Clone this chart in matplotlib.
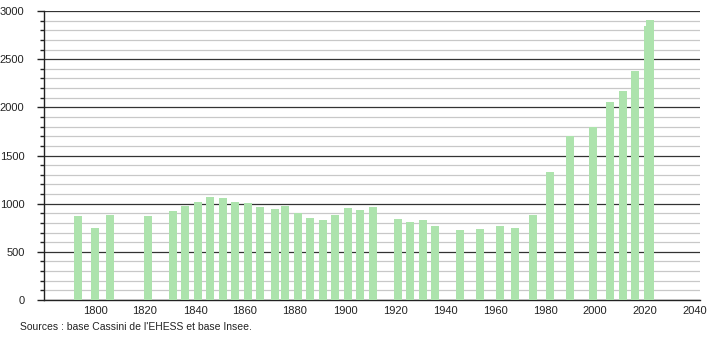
import matplotlib
matplotlib.use("Agg")
import matplotlib.pyplot as plt
from matplotlib.ticker import MultipleLocator

years = [1793, 1800, 1806, 1821, 1831, 1836, 1841, 1846, 1851, 1856, 1861, 1866,
         1872, 1876, 1881, 1886, 1891, 1896, 1901, 1906, 1911, 1921, 1926, 1931,
         1936, 1946, 1954, 1962, 1968, 1975, 1982, 1990, 1999, 2006, 2011, 2016,
         2021, 2022]
population = [872, 748, 883, 872, 924, 976, 1017, 1069, 1059, 1017, 1007, 966,
              945, 976, 900, 852, 831, 883, 955, 934, 966, 841, 810, 831,
              769, 728, 738, 769, 748, 883, 1328, 1700, 1793, 2052, 2166, 2373,
              2845, 2905]
x_ticks = [1800, 1820, 1840, 1860, 1880, 1900, 1920, 1940, 1960, 1980, 2000, 2020, 2040]
y_ticks = [0, 500, 1000, 1500, 2000, 2500, 3000]
source = "Sources : base Cassini de l'EHESS et base Insee."

plt.rcParams['font.family'] = ['Liberation Sans', 'DejaVu Sans']

fig = plt.figure(figsize=(7.1, 3.4), dpi=100)
ax = fig.add_axes([44/710, 1-300/340, (700-44)/710, (300-11)/340])

ax.bar(years, population, width=3.2, color='#ade3ad', zorder=3, linewidth=0)

ax.set_xlim(1779.6, 2042)
ax.set_ylim(0, 3000)
ax.set_xticks(x_ticks)
ax.set_yticks(y_ticks)
ax.yaxis.set_minor_locator(MultipleLocator(100))

ax.grid(axis='y', which='major', color='#333333', linewidth=0.9, zorder=1)
ax.grid(axis='y', which='minor', color='#c8c8c8', linewidth=0.9, zorder=0)
ax.set_axisbelow(True)

for s in ['top', 'right']:
    ax.spines[s].set_visible(False)
ax.spines['left'].set_color('#222222')
ax.spines['bottom'].set_color('#222222')
ax.spines['left'].set_linewidth(1.0)
ax.spines['bottom'].set_linewidth(1.0)

ax.tick_params(axis='x', length=0, pad=4, labelsize=8, colors='#222222')
ax.tick_params(axis='y', which='major', length=5, width=1, pad=9, labelsize=8, colors='#222222')
ax.tick_params(axis='y', which='minor', length=3, width=1, colors='#222222')

fig.text(20/710, 1-327/340, source, fontsize=7.5, color='#222222', va='center', ha='left')

fig.savefig('out.png', dpi=100)
